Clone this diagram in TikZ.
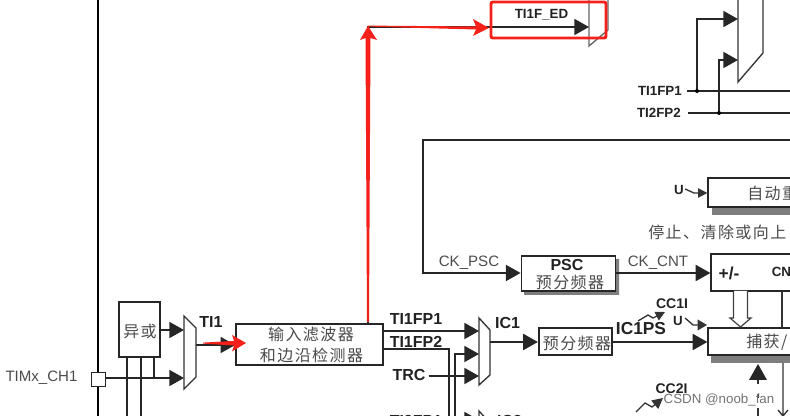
\documentclass[tikz,border=0pt]{standalone}
\usepackage{fontspec}
\setmainfont{Liberation Sans}
\newfontfamily\cjk[LetterSpace=9]{Noto Sans CJK SC}
\usetikzlibrary{arrows.meta}
\definecolor{txt}{HTML}{222222}
\definecolor{cjkgray}{HTML}{4A4A4A}
\definecolor{shadowgray}{HTML}{7E7E7E}
\definecolor{redmark}{HTML}{F5201A}
\tikzset{
  x=0.75pt,y=-0.75pt,
  wire/.style={draw=black!85,line width=1.4pt},
  thinwire/.style={draw=black!80,line width=1pt},
  flow/.style={wire,-{Triangle[length=11pt,width=12pt]}},
  smallflow/.style={thinwire,-{Triangle[length=7pt,width=7pt]}},
  redfill/.style={fill=redmark,draw=none},
  boxed/.style={draw=black!85,line width=1.4pt,fill=white,inner sep=0pt},
  muxshape/.style={draw=black!80,line width=1pt,fill=white},
  lbl/.style={font=\bfseries\fontsize{12}{13}\selectfont,text=txt,inner sep=0pt},
  lblten/.style={font=\bfseries\fontsize{10}{11}\selectfont,text=txt,inner sep=0pt},
  lblsmall/.style={font=\fontsize{11.3}{12}\selectfont,text=black!70,inner sep=0pt},
  zh/.style={font=\cjk\fontsize{12}{14}\selectfont,text=cjkgray,inner sep=0pt},
  dot/.style={circle,fill=black,inner sep=0pt,minimum size=3pt}
}
\begin{document}
\begin{tikzpicture}
\useasboundingbox (0,0) rectangle (790,416);
\clip (0,0) rectangle (790,416);
% main bus
\coordinate (busT) at (98,0); \coordinate (busB) at (98,416);
\draw[draw=black,line width=2pt] (busT) -- (busB);
% left part
\node[boxed,minimum width=30.5pt,minimum height=41pt] (xor) at (139.5,329.5) {};
\node[zh] (xortxt) at (140,331) {异或};
\node[boxed,minimum width=10.5pt,minimum height=10.5pt] (ch1) at (98.5,379.5) {};
\node[lblsmall] (ch1t) at (41.5,378) {TIMx\_CH1};
\draw[muxshape] (184,316) -- (196,328) -- (196,377) -- (184,389) -- cycle;
\coordinate (m1i1) at (184,330); \coordinate (m1i2) at (184,378); \coordinate (m1o) at (196,345);
\draw[flow] (xor.east |- m1i1) -- (m1i1);
\draw[flow] (ch1.east |- m1i2) -- (m1i2);
\foreach \n/\xx/\yy in {a/127/416,b/141/416,c/154/378}{
  \coordinate (xs\n) at (\xx,357); \coordinate (xe\n) at (\xx,\yy);
  \draw[wire] (xs\n) -- (xe\n);
}
\node[lbl] (ti1) at (211,322) {TI1};
% filter
\node[boxed,minimum width=110pt,minimum height=31pt] (filt) at (309.5,344.5) {};
\node[zh] (f1) at (311,334.5) {输入滤波器};
\node[zh] (f2) at (311.5,355) {和边沿检测器};
\draw[flow] (m1o) -- (filt.west |- m1o);
% TI1F_ED
\coordinate (ftop) at (368,323.5); \coordinate (corner) at (368,27); \coordinate (edin) at (589,27);
\draw[muxshape,draw=black!60] (589,-4) -- (589,46) -- (608,30) -- (608,-4);
\draw[flow] (ftop) -- (corner) -- (edin);
\node[lblten] (edt) at (541.5,15) {TI1F\_ED};
% right mux top
\draw[muxshape] (738,-4) -- (738,82) -- (763,53) -- (763,-4);
\coordinate (j1) at (697,91); \coordinate (j2) at (719,113);
\draw[flow] (j1) -- (697,19) -- (738,19);
\draw[flow] (j2) -- (719,60) -- (738,60);
\node[lblten,anchor=east] (fp1r) at (682,91) {TI1FP1};
\node[lblten,anchor=east] (fp2r) at (681,113) {TI2FP2};
\coordinate (e1) at (790,91); \coordinate (e2) at (790,113);
\draw[wire] (fp1r.east) ++(5,0) -- (e1);
\draw[wire] (fp2r.east) ++(7,0) -- (e2);
\node[dot] (d1) at (j1) {}; \node[dot] (d2) at (j2) {};
% clock loop
\fill[shadowgray] (616,259) rectangle (619,295) (524,292) rectangle (619,295);
\node[boxed,minimum width=70.5pt,minimum height=26.5pt] (psc) at (568.5,273.5) {};
\node[lbl] (psct) at (567,265) {PSC};
\node[zh] (pscz) at (570,282) {预分频器};
\coordinate (lt) at (790,140); \coordinate (lc) at (423,140); \coordinate (lb) at (423,273);
\draw[flow] (lt) -- (lc) -- (lb) -- (psc.west |- lb);
\node[lblsmall] (ckp) at (469,263) {CK\_PSC};
\node[lblsmall] (ckc) at (658,263) {CK\_CNT};
% autoreload
\fill[shadowgray] (712,207) rectangle (795,215);
\node[boxed,minimum width=70pt,minimum height=22pt] (arr) at (755,192.5) {};
\node[zh,anchor=west] (arrt) at (747,193.5) {自动重};
\node[lblten] (u1) at (679,190) {U};
\coordinate (u1m) at (694,193);
\draw[smallflow] (u1.east) ++(1,-1) -- (u1m) -- (arr.west |- u1m);
\node[zh,anchor=west] (stop) at (648,232) {停止、清除或向上};
% CNT
\node[boxed,minimum width=70pt,minimum height=28pt] (cnt) at (758,272.5) {};
\node[font=\bfseries\fontsize{13}{14}\selectfont,text=txt,inner sep=0pt] (pm) at (729,273) {+/-};
\node[font=\bfseries\fontsize{10}{12}\selectfont,text=txt,inner sep=0pt,anchor=west] (cntt) at (771.5,272) {CN};
\draw[flow] (psc.east |- lb) -- (cnt.west |- lb);
% capture
\fill[shadowgray] (711,355) rectangle (795,363);
\node[boxed,minimum width=70pt,minimum height=20pt] (cap) at (755,341.5) {};
\node[zh,anchor=west] (capt) at (746,342) {捕获/};
% hollow arrow
\draw[draw=black!75,line width=.9pt,fill=white] (733.5,291) -- (733.5,318) -- (730,318) -- (740.5,327) -- (751,318) -- (747.5,318) -- (747.5,291);
\coordinate (v1) at (782,291.5); \coordinate (v2) at (782,327);
\draw[thinwire] (v1) -- (v2);
% mid prescaler
\node[boxed,minimum width=55pt,minimum height=20.5pt] (pre) at (575.5,341.5) {};
\node[zh] (pret) at (577,343) {预分频器};
\draw[muxshape] (479,318) -- (490,330) -- (490,375) -- (479,385) -- cycle;
\draw[muxshape] (479,411) -- (490,423) -- (490,440) -- (479,440) -- cycle;
\coordinate (m2i1) at (479,331); \coordinate (m2i2) at (479,354); \coordinate (m2i3) at (479,376); \coordinate (m2i4) at (479,420); \coordinate (m2o) at (490,342);
\draw[flow] (filt.east |- m2i1) -- (m2i1);
\draw[flow] (filt.east |- 0,349) -- (449,349) -- (449,420) -- (m2i4);
\draw[flow] (455,420) -- (455,354) -- (m2i2);
\node[lbl] (fp1) at (416,319) {TI1FP1};
\node[lbl] (fp2) at (416,342) {TI1FP2};
\node[lbl] (trc) at (409,375) {TRC};
\draw[flow] (trc.east) ++(3,1) -- (m2i3);
\node[lbl] (ic1) at (507.5,323) {IC1};
\draw[flow] (m2o) -- (pre.west |- m2o);
\draw[flow] (pre.east |- m2o) -- (cap.west |- m2o);
\node[font=\bfseries\fontsize{13}{14}\selectfont,text=txt,inner sep=0pt] (ic1ps) at (641,329) {IC1PS};
\node[font=\bfseries\fontsize{10.5}{12}\selectfont,text=txt,inner sep=0pt] (cc1) at (672,304) {CC1I};
\node[lblten] (u2) at (678,321) {U};
\coordinate (u2m) at (693,325); \coordinate (u2e) at (707,325);
\draw[thinwire,-{Triangle[length=7pt,width=8pt]}] (u2.east) ++(2,-3) -- (u2m) -- (u2e);
\draw[thinwire,-{Triangle[length=7pt,width=7pt]}] (638,321) -- (648,315) -- (653,318) -- (665,312);
% lower right
\node[font=\bfseries\fontsize{10.5}{12}\selectfont,text=txt,inner sep=0pt] (cc2) at (671.5,389) {CC2I};
\draw[thinwire,-{Triangle[length=8pt,width=8pt]}] (636,412) -- (645,403) -- (652,407) -- (663,398);
\fill[black!85] (758,364) -- (767,380) -- (749,380) -- cycle;
\draw[thinwire] (758,380) -- (758,384) (758,394) -- (758,398) (758,408) -- (758,416);
\draw[thinwire] (783,363) -- (783,416) (778,410) -- (783,416) -- (788,410);
% bottom row
\node[lbl] (fpb) at (416,421) {TI2FP1};
\node[lbl] (ic2) at (509.5,421) {IC2};
% annotations: tapered red arrows
\fill[redfill] (203,342.6) -- (234,341) -- (232,335) -- (246,343) -- (232,351.5) -- (234,345.5) -- (203,343.6) -- cycle;
\fill[redfill] (367,322) -- (365.5,38) -- (360,40) -- (368,26) -- (377,40) -- (370.5,38) -- (369,322) -- cycle;
\fill[redfill] (368,25.6) -- (476,26.5) -- (473,19) -- (489,28) -- (473,36) -- (476,29.5) -- (368,26.6) -- cycle;
\draw[draw=redmark,line width=2.2pt,rounded corners=1.5pt] (491,2) rectangle (606,38);
\node[font=\fontsize{10}{12}\selectfont,text=black!55,inner sep=0pt] (wm) at (719,400) {CSDN @noob\_fan};
\end{tikzpicture}
\end{document}
